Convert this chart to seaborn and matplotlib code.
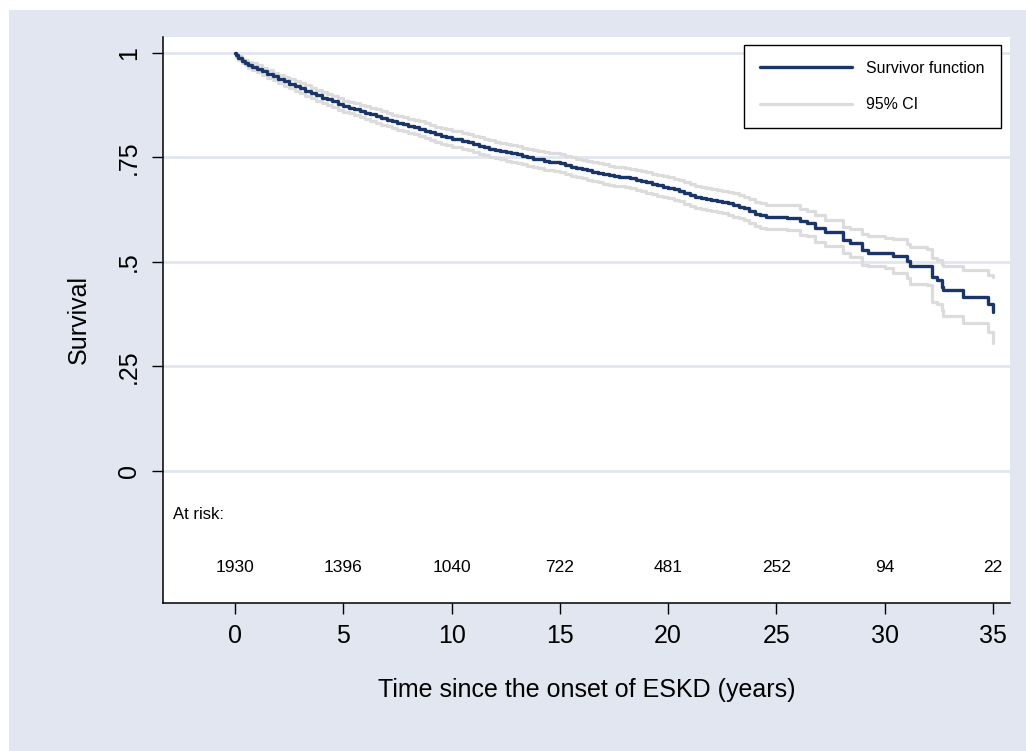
import numpy as np
import pandas as pd
import matplotlib.pyplot as plt
import seaborn as sns
from matplotlib.patches import Rectangle

# Kaplan-Meier estimate and 95% CI
time = [0.0, 0.05, 0.15, 0.3, 0.45, 0.6, 0.8, 1.0, 1.25, 1.5, 1.75, 2.0, 2.25,
        2.5, 2.75, 3.0, 3.25, 3.5, 3.75, 4.0, 4.25, 4.5, 4.75, 5.0, 5.25, 5.5,
        5.75, 6.0, 6.25, 6.5, 6.75, 7.0, 7.25, 7.5, 7.75, 8.0, 8.25, 8.5, 8.75,
        9.0, 9.25, 9.5, 9.75, 10.0, 10.25, 10.5, 10.75, 11.0, 11.25, 11.5, 11.75,
        12.0, 12.25, 12.5, 12.75, 13.0, 13.25, 13.5, 13.75, 14.0, 14.25, 14.5,
        14.75, 15.0, 15.25, 15.5, 15.75, 16.0, 16.25, 16.5, 16.75, 17.0, 17.25,
        17.5, 17.75, 18.0, 18.25, 18.5, 18.75, 19.0, 19.25, 19.5, 19.75, 20.0,
        20.25, 20.5, 20.75, 21.0, 21.25, 21.5, 21.75, 22.0, 22.25, 22.5, 22.75,
        23.0, 23.25, 23.5, 23.75, 24.0, 24.25, 24.5, 25.5, 26.09, 26.40, 26.78,
        27.24, 28.09, 28.40, 28.93, 29.24, 30.01, 30.40, 31.01, 31.17, 31.94,
        32.17, 32.40, 32.63, 32.71, 33.63, 34.79, 35.0]
survival = [1.000, 0.994, 0.988, 0.980, 0.976, 0.972, 0.967, 0.962, 0.956, 0.950,
            0.944, 0.938, 0.932, 0.926, 0.921, 0.915, 0.910, 0.905, 0.899, 0.893,
            0.889, 0.884, 0.878, 0.872, 0.869, 0.866, 0.861, 0.857, 0.853, 0.849,
            0.844, 0.840, 0.836, 0.833, 0.829, 0.825, 0.822, 0.818, 0.814, 0.810,
            0.805, 0.801, 0.798, 0.795, 0.793, 0.790, 0.786, 0.782, 0.778, 0.775,
            0.771, 0.768, 0.765, 0.762, 0.760, 0.757, 0.753, 0.750, 0.747, 0.745,
            0.742, 0.740, 0.739, 0.737, 0.732, 0.728, 0.725, 0.722, 0.719, 0.716,
            0.713, 0.710, 0.707, 0.705, 0.704, 0.702, 0.700, 0.697, 0.693, 0.690,
            0.686, 0.683, 0.680, 0.677, 0.674, 0.670, 0.665, 0.660, 0.656, 0.652,
            0.650, 0.648, 0.646, 0.643, 0.640, 0.636, 0.632, 0.628, 0.621, 0.615,
            0.611, 0.607, 0.606, 0.597, 0.593, 0.581, 0.571, 0.553, 0.545, 0.529,
            0.522, 0.521, 0.513, 0.501, 0.490, 0.489, 0.463, 0.457, 0.439, 0.433,
            0.417, 0.400, 0.381]
ci_low = [1.000, 0.991, 0.984, 0.975, 0.970, 0.965, 0.960, 0.954, 0.947, 0.941,
          0.935, 0.928, 0.921, 0.915, 0.910, 0.903, 0.898, 0.893, 0.886, 0.880,
          0.876, 0.870, 0.864, 0.858, 0.855, 0.851, 0.846, 0.842, 0.838, 0.833,
          0.828, 0.824, 0.820, 0.816, 0.812, 0.808, 0.805, 0.800, 0.796, 0.792,
          0.787, 0.782, 0.779, 0.776, 0.774, 0.771, 0.767, 0.762, 0.758, 0.755,
          0.751, 0.748, 0.745, 0.742, 0.740, 0.737, 0.733, 0.730, 0.727, 0.724,
          0.721, 0.719, 0.718, 0.716, 0.711, 0.706, 0.703, 0.700, 0.697, 0.694,
          0.690, 0.687, 0.684, 0.682, 0.681, 0.679, 0.677, 0.673, 0.669, 0.666,
          0.662, 0.658, 0.655, 0.652, 0.649, 0.645, 0.639, 0.634, 0.630, 0.626,
          0.623, 0.621, 0.619, 0.616, 0.612, 0.608, 0.604, 0.600, 0.592, 0.586,
          0.582, 0.578, 0.576, 0.565, 0.562, 0.548, 0.537, 0.521, 0.512, 0.493,
          0.490, 0.486, 0.474, 0.462, 0.446, 0.445, 0.405, 0.400, 0.385, 0.370,
          0.354, 0.332, 0.306]
ci_high = [1.000, 0.997, 0.992, 0.985, 0.982, 0.979, 0.975, 0.970, 0.965, 0.959,
           0.953, 0.948, 0.943, 0.937, 0.932, 0.927, 0.922, 0.917, 0.912, 0.906,
           0.902, 0.898, 0.892, 0.886, 0.883, 0.881, 0.876, 0.872, 0.868, 0.865,
           0.860, 0.856, 0.852, 0.850, 0.846, 0.842, 0.839, 0.836, 0.832, 0.828,
           0.823, 0.820, 0.817, 0.814, 0.812, 0.809, 0.805, 0.802, 0.798, 0.795,
           0.791, 0.788, 0.785, 0.782, 0.780, 0.777, 0.773, 0.770, 0.767, 0.766,
           0.763, 0.761, 0.760, 0.758, 0.753, 0.750, 0.747, 0.744, 0.741, 0.738,
           0.736, 0.733, 0.730, 0.728, 0.727, 0.725, 0.723, 0.721, 0.717, 0.714,
           0.710, 0.708, 0.705, 0.702, 0.699, 0.695, 0.691, 0.686, 0.682, 0.678,
           0.677, 0.675, 0.673, 0.670, 0.668, 0.664, 0.660, 0.656, 0.650, 0.644,
           0.640, 0.636, 0.635, 0.627, 0.622, 0.612, 0.600, 0.584, 0.578, 0.567,
           0.562, 0.557, 0.555, 0.542, 0.535, 0.530, 0.509, 0.505, 0.494, 0.491,
           0.481, 0.468, 0.463]

risk_times = [0, 5, 10, 15, 20, 25, 30, 35]
at_risk = [1930, 1396, 1040, 722, 481, 252, 94, 22]

y_ticks = [0, 0.25, 0.5, 0.75, 1]
y_tick_labels = ['0', '.25', '.5', '.75', '1']

km = pd.DataFrame({'time': time, 'surv': survival, 'lo': ci_low, 'hi': ci_high})

sns.set_style('white')
plt.rcParams['font.family'] = ['Liberation Sans', 'DejaVu Sans']
for k in ['text.color', 'axes.labelcolor', 'xtick.color', 'ytick.color']:
    plt.rcParams[k] = 'black'

navy = '#1a3668'
ci_col = '#dcdcdc'
bg = '#e1e6f0'

fig = plt.figure(figsize=(10.26, 7.51), dpi=100)
fig.patches.append(Rectangle((9 / 1026, 0), 1, 741 / 751, transform=fig.transFigure,
                             facecolor=bg, edgecolor='none', zorder=-10))
ax = fig.add_axes([163 / 1026, 148 / 751, 847 / 1026, 566 / 751])
ax.set_facecolor('white')

for yv in y_ticks:
    ax.axhline(yv, color=bg, lw=2, zorder=0)

sns.lineplot(data=km, x='time', y='lo', ax=ax, color=ci_col, lw=2.3,
             drawstyle='steps-post', zorder=2)
sns.lineplot(data=km, x='time', y='hi', ax=ax, color=ci_col, lw=2.3,
             drawstyle='steps-post', zorder=2, label='95% CI')
sns.lineplot(data=km, x='time', y='surv', ax=ax, color=navy, lw=2.4,
             drawstyle='steps-post', zorder=3, label='Survivor function')

ax.set_xlim(-3.325, 35.785)
ax.set_ylim(-0.316, 1.038)
ax.set_xticks(risk_times)
ax.set_yticks(y_ticks)
ax.set_yticklabels(y_tick_labels, rotation=90, va='center')
ax.tick_params(axis='both', direction='out', length=8, width=1, color='black',
               labelsize=18, pad=7, left=True, bottom=True)
ax.tick_params(axis='y', pad=8)

for s in ['top', 'right']:
    ax.spines[s].set_visible(False)
for s in ['left', 'bottom']:
    ax.spines[s].set_color('black')
    ax.spines[s].set_linewidth(1.1)

ax.set_xlabel('Time since the onset of ESKD (years)', fontsize=18, labelpad=22)
ax.set_ylabel('Survival', fontsize=18, labelpad=19)

# number at risk table inside the plot region
ax.text(-2.86, -0.105, 'At risk:', fontsize=12, ha='left', va='center')
for t, n in zip(risk_times, at_risk):
    ax.text(t, -0.232, str(n), fontsize=12.5, ha='center', va='center')

handles, labels = ax.get_legend_handles_labels()
order = [labels.index('Survivor function'), labels.index('95% CI')]
leg = ax.legend([handles[i] for i in order], [labels[i] for i in order],
                loc='upper right', bbox_to_anchor=(0.989, 0.986), fontsize=11.4,
                frameon=True, fancybox=False, edgecolor='black', framealpha=1,
                handlelength=5.8, handletextpad=0.9, labelspacing=1.35,
                borderpad=1.0, borderaxespad=0)
leg.get_frame().set_linewidth(1.0)

fig.savefig('out.png', dpi=100, facecolor='white')
